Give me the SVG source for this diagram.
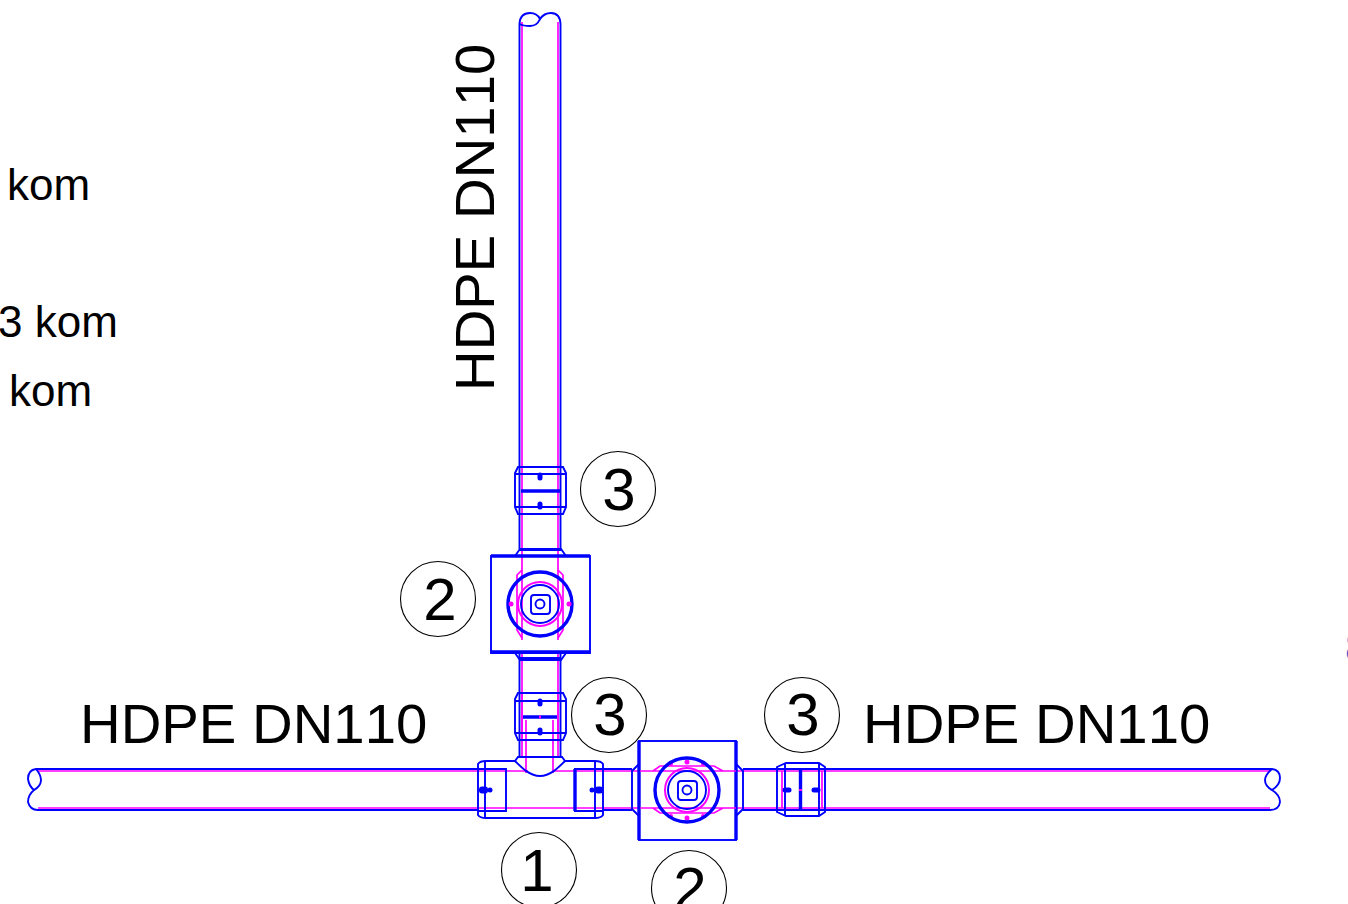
<svg xmlns="http://www.w3.org/2000/svg" width="1348" height="904" viewBox="0 0 1348 904">
<style>
.b{fill:none;stroke:#0000ff;stroke-width:1.9}
.bt{fill:none;stroke:#0000ff;stroke-width:3.400}
.bd{fill:none;stroke:#0000ff;stroke-width:5;stroke-linecap:round}
.m{fill:none;stroke:#ff00ff;stroke-width:1.7}
.d{fill:#0000ff;stroke:none}
.p{fill:#ff00ff;stroke:none}
.c{fill:none;stroke:#000;stroke-width:1.1}
text{font-family:"Liberation Sans",Arial,sans-serif;fill:#000;font-kerning:none}
.l{font-size:56.300px}
.n{font-size:60px;text-anchor:middle}
.k{font-size:44px}
</style>
<rect width="1348" height="904" fill="#fff"/>
<g id="connectors">
<path class="m" d="M522 466V22M558 466V22"/>
<path class="b" d="M519.500 466V24Q520 13 530 13Q537 13 540 19Q544 13 551 13Q560 13 560.500 24V466"/>
<path class="b" d="M519.500 24Q523 26 530 26Q537 26 540 19"/>
<path class="m" d="M522 515V560M558 515V560M522 654V692M558 654V692"/>
<path class="b" d="M519.500 515V549M560.500 515V549M519.500 654V692M560.500 654V692"/>
<path class="m" d="M38 771H478M38 808H478M825 771H1270M825 808H1270M603 771H640M603 808H640M736 771H778M736 808H778"/>
<path class="b" d="M478 769H36Q28 770 28 779Q29 786 34 790Q28 795 28 802Q30 810 38 810H478"/>
<path class="b" d="M36 769Q41 775 41 780Q41 786 34 790"/>
<path class="b" d="M825 769H1272Q1280 770 1280 778Q1280 785 1272 790Q1280 795 1280 802Q1279 810 1270 810H825"/>
<path class="b" d="M1272 769Q1265 775 1265 780Q1265 786 1272 790"/>
<path class="b" d="M602 769H632M602 810H632M743 769H778M743 810H778"/>
</g>
<g id="fitting-tee">
<path class="m" d="M478 771H528M552 771H602M478 808H602M526 720V773M553 720V773M522 693V757M558 693V757"/>
<path class="b" d="M519.500 741V757M560.500 741V757"/>
<path class="b" d="M478 764Q480 761 486 761H515C522 768 530 776 540 776C550 776 558 768 565 761H595Q601 761 603 764V815Q601 818 595 818H486Q480 818 478 815Z"/>
<path class="b" d="M515 761L518 757H562L565 761"/>
<path class="b" d="M485 761V818M595 761V818M478 769H506V811H478M574 769H603M574 811H603M506 769V811"/>
<path class="bt" d="M575 769V811"/>
<rect class="d" x="479" y="786.500" width="9" height="7" rx="3"/><circle class="d" cx="490" cy="790" r="2.500"/>
<rect class="d" x="595" y="786.500" width="8" height="7" rx="3"/><circle class="d" cx="592" cy="790" r="2.500"/>
</g>
<g id="coupling-top">
<path class="m" d="M522 467V515M558 467V515"/>
<path class="b" d="M518 467H563L566 473V507L563 514H518L515 507V473Z"/>
<path class="b" d="M515 474H566M515 507H566M519.500 467V514M560.500 467V514"/>
<path class="bt" d="M521 491H560"/>
<path class="bd" d="M540 475V478M540 504V507"/>
</g>
<g id="coupling-mid">
<path class="m" d="M522 693V741M558 693V741"/>
<path class="b" d="M518 693H563L566 699V733L563 740H518L515 733V699Z"/>
<path class="b" d="M515 701H566M515 733H566M519.500 693V740M560.500 693V740"/>
<path class="bt" d="M523 717H557"/>
<path class="m" d="M539 717H541" style="stroke-width:3"/>
<path class="bd" d="M540 701V704M540 730V733"/>
</g>
<g id="coupling-right">
<path class="m" d="M782 771V808M822 771V808M778 771H825M778 808H825"/>
<path class="b" d="M777 767L786 763H819L825 767V812L819 816H786L777 812Z"/>
<path class="b" d="M777 769H825M777 810H825M785 763V816M819 763V816"/>
<path class="bt" d="M800.500 770V810"/>
<path class="m" d="M800.500 789V791" style="stroke-width:3"/>
<path class="bd" d="M785 790H789M814 790H818"/>
</g>
<g id="valve-top">
<rect class="b" x="491" y="556" width="99" height="97"/>
<path class="bt" d="M491 556H590M491 652H590"/>
<path class="b" d="M515 556L520 549H561L566 556M515 653L520 660H561L566 653M519 550H561M519 658H561"/>
<path class="m" d="M522 560V640M558 560V640"/>
<path class="m" d="M522 570L517 575V630L522 638H522M558 570L563 575V630L558 638"/>
<circle class="bt" cx="540" cy="604" r="32"/>
<circle class="m" cx="540" cy="604" r="22" style="stroke-width:2"/>
<circle class="b" cx="540" cy="604" r="19"/>
<circle class="p" cx="511" cy="604" r="2.500"/><circle class="p" cx="569" cy="604" r="2.500"/>
<rect class="b" x="531" y="595" width="19" height="19" rx="3"/>
<circle class="b" cx="540" cy="604" r="4.500"/>
</g>
<g id="valve-right">
<rect class="b" x="639" y="741" width="97" height="99"/>
<path class="bt" d="M639 741V840M736 741V840"/>
<path class="b" d="M639 764L632 771V809L639 816M736 764L743 771V809L736 816"/>
<path class="m" d="M653 771L660 766H714L723 771M653 808L660 813H714L723 808M640 771H736M640 808H736"/>
<circle class="p" cx="687" cy="762" r="2.500"/><circle class="p" cx="687" cy="818" r="2.500"/>
<circle class="p" cx="671" cy="764" r="2"/><circle class="p" cx="703" cy="764" r="2"/><circle class="p" cx="671" cy="816" r="2"/><circle class="p" cx="703" cy="816" r="2"/>
<circle class="bt" cx="687" cy="790" r="32"/>
<circle class="m" cx="687" cy="790" r="22" style="stroke-width:2"/>
<circle class="b" cx="687" cy="790" r="19"/>
<rect class="b" x="678" y="781" width="19" height="19" rx="3"/>
<circle class="b" cx="687" cy="790" r="4.500"/>
</g>
<g id="tag-3a"><circle class="c" cx="618" cy="489" r="37.500"/><text class="n" x="619" y="510">3</text></g>
<g id="tag-2a"><circle class="c" cx="438" cy="599" r="37.500"/><text class="n" x="440" y="620">2</text></g>
<g id="tag-3b"><circle class="c" cx="609" cy="715" r="37.500"/><text class="n" x="610" y="735">3</text></g>
<g id="tag-3c"><circle class="c" cx="802" cy="715" r="37.500"/><text class="n" x="803" y="735">3</text></g>
<g id="tag-1"><circle class="c" cx="539" cy="870" r="37.500"/><text class="n" x="537" y="891">1</text></g>
<g id="tag-2b"><circle class="c" cx="689" cy="888" r="37.500"/><text class="n" x="690" y="909">2</text></g>
<g id="labels">
<text class="l" x="80" y="743">HDPE DN110</text>
<text class="l" x="863" y="743">HDPE DN110</text>
<text class="l" transform="translate(494 391) rotate(-90)">HDPE DN110</text>
<text class="k" x="7" y="200">kom</text>
<text class="k" x="-2" y="337">3 kom</text>
<text class="k" x="9" y="406">kom</text>
<text x="1345" y="662" style="font-size:42px;fill:#4455cc">8</text>
</g>
</svg>
